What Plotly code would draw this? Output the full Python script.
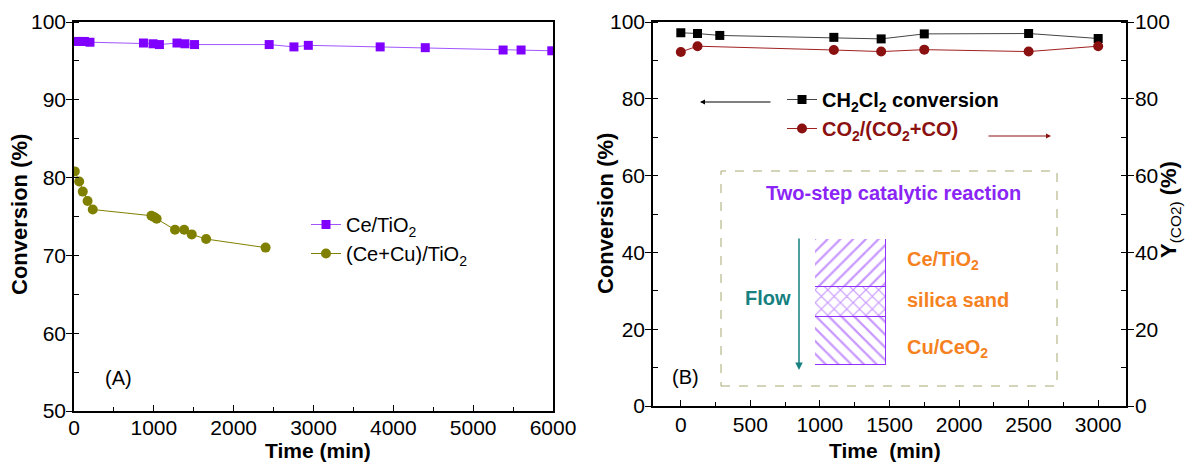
import plotly.graph_objects as go

# ---------------- data ----------------
# Panel A: conversion vs time
time_ce_tio2 = [20, 70, 130, 200, 870, 990, 1070, 1290, 1390, 1510, 2445, 2755, 2935, 3835, 4400, 5375, 5600, 5985]
conv_ce_tio2 = [97.5, 97.5, 97.5, 97.4, 97.3, 97.2, 97.1, 97.3, 97.2, 97.1, 97.1, 96.8, 97.0, 96.8, 96.7, 96.4, 96.4, 96.3]
time_cecu_tio2 = [10, 65, 110, 170, 235, 970, 1000, 1035, 1265, 1380, 1475, 1655, 2400]
conv_cecu_tio2 = [80.8, 79.5, 78.2, 77.0, 75.9, 75.1, 74.95, 74.7, 73.3, 73.3, 72.7, 72.1, 71.0]

# Panel B: two-step reaction
time_b_conv = [0, 120, 280, 1100, 1440, 1750, 2500, 3000]
ch2cl2_conv = [97.2, 97.0, 96.5, 96.0, 95.6, 96.9, 97.0, 95.7]
time_b_yco2 = [0, 120, 1100, 1440, 1750, 2500, 3000]
co2_ratio = [92.2, 93.7, 92.7, 92.3, 92.8, 92.3, 93.7]

# Inset: catalyst bed (bottom to top)
bed_layers = ["Cu/CeO2", "silica sand", "Ce/TiO2"]
bed_heights = [1.6, 1.0, 1.6]
bed_patterns = ["\\", "x", "/"]

# ---------------- styling helpers ----------------
W, H = 1186, 463
FONT = "Arial, 'Liberation Sans', sans-serif"
PURPLE = "#8000FF"
OLIVE = "#808000"
DARKRED = "#8B1010"
HATCH = "#9130FF"
ORANGE = "#F5821F"
TEAL = "#178080"
TITLE_PURPLE = "#8B25F5"


def px(x):
    return x / W


def py(y):
    return 1 - y / H


fig = go.Figure()

# Panel A traces
fig.add_trace(go.Scatter(
    x=time_ce_tio2, y=conv_ce_tio2, mode="lines+markers", name="Ce/TiO<sub>2</sub>",
    line=dict(color="#A055FF", width=1), marker=dict(symbol="square", size=9, color=PURPLE),
    xaxis="x", yaxis="y", legend="legend"))
fig.add_trace(go.Scatter(
    x=time_cecu_tio2, y=conv_cecu_tio2, mode="lines+markers", name="(Ce+Cu)/TiO<sub>2</sub>",
    line=dict(color=OLIVE, width=1), marker=dict(symbol="circle", size=10, color=OLIVE),
    xaxis="x", yaxis="y", legend="legend"))

# Panel B traces
fig.add_trace(go.Scatter(
    x=time_b_conv, y=ch2cl2_conv, mode="lines+markers",
    name="<b>CH<sub>2</sub>Cl<sub>2</sub> conversion</b>",
    line=dict(color="#444444", width=1), marker=dict(symbol="square", size=9, color="black"),
    xaxis="x2", yaxis="y2", legend="legend2"))
fig.add_trace(go.Scatter(
    x=time_b_yco2, y=co2_ratio, mode="lines+markers",
    name="<span style='color:#8B1010'><b>CO<sub>2</sub>/(CO<sub>2</sub>+CO)</b></span>",
    line=dict(color="#A02020", width=1), marker=dict(symbol="circle", size=10, color=DARKRED),
    xaxis="x2", yaxis="y3", legend="legend2"))

# Inset catalyst bed as hatched stacked bars
for layer, h, pat in zip(bed_layers, bed_heights, bed_patterns):
    fig.add_trace(go.Bar(
        x=[0], y=[h], width=1, name=layer, showlegend=False, hoverinfo="skip",
        marker=dict(color="white", line=dict(color=HATCH, width=1.5),
                    pattern=dict(shape=pat, fgcolor=HATCH, bgcolor="white", size=9, solidity=0.25)),
        xaxis="x3", yaxis="y4"))

tick_font = dict(family=FONT, size=21, color="black")
title_font = dict(family=FONT, size=22, color="black")

common_axis = dict(showline=True, linecolor="black", linewidth=1.5, mirror=True,
                   showgrid=False, zeroline=False, tickfont=tick_font, automargin=False,
                   tickcolor="black", ticklen=6, tickwidth=1.3)

fig.update_layout(
    width=W, height=H, margin=dict(l=0, r=0, t=0, b=0, autoexpand=False),
    paper_bgcolor="white", plot_bgcolor="white",
    font=dict(family=FONT, size=20, color="black"),
    barmode="stack", bargap=0,
    xaxis=dict(common_axis, domain=[px(74), px(553)], range=[0, 6000], dtick=1000,
               ticks="inside", anchor="y", ticklabelstandoff=-3,
               minor=dict(dtick=500, ticks="inside", ticklen=4, tickcolor="black", tickwidth=1.3)),
    yaxis=dict(common_axis, domain=[py(411), py(22)], range=[50, 100], dtick=10,
               ticks="outside", anchor="x", ticklabelstandoff=-4,
               minor=dict(dtick=5, ticks="inside", ticklen=5, tickcolor="black", tickwidth=1.3)),
    xaxis2=dict(common_axis, domain=[px(653), px(1126)], range=[-200, 3200], dtick=500,
                tick0=0, ticks="inside", anchor="y2", ticklabelstandoff=-1,
                minor=dict(dtick=250, tick0=0, ticks="inside", ticklen=4, tickcolor="black", tickwidth=1.3)),
    yaxis2=dict(common_axis, domain=[py(406), py(22)], range=[0, 100], dtick=20,
                ticks="outside", anchor="x2", mirror=False, ticklabelstandoff=-4,
                minor=dict(dtick=10, ticks="inside", ticklen=5, tickcolor="black", tickwidth=1.3)),
    yaxis3=dict(common_axis, overlaying="y2", side="right", range=[0, 100], dtick=20,
                ticks="outside", anchor="x2", mirror=False, ticklabelstandoff=-3,
                minor=dict(dtick=10, ticks="inside", ticklen=5, tickcolor="black", tickwidth=1.3)),
    xaxis3=dict(domain=[px(815), px(886)], range=[-0.5, 0.5], visible=False, anchor="y4",
                fixedrange=True, automargin=False),
    yaxis4=dict(domain=[py(365), py(239)], range=[0, sum(bed_heights)], visible=False,
                anchor="x3", fixedrange=True, automargin=False),
    legend=dict(x=px(306), y=py(205), xanchor="left", yanchor="top", traceorder="normal",
                font=dict(family=FONT, size=20, color="black"),
                bgcolor="rgba(0,0,0,0)", borderwidth=0, tracegroupgap=0),
    legend2=dict(x=px(782), y=py(80), xanchor="left", yanchor="top", traceorder="normal",
                 font=dict(family=FONT, size=20, color="black"),
                 bgcolor="rgba(0,0,0,0)", borderwidth=0, tracegroupgap=0),
    showlegend=True,
)

# Inset frame
fig.add_shape(type="rect", xref="paper", yref="paper",
              x0=px(721), x1=px(1057), y0=py(386), y1=py(171),
              line=dict(color="#A8A870", width=1, dash="dash"), fillcolor="rgba(0,0,0,0)", layer="below")

xtitle_font = dict(family=FONT, size=21, color="black")
annotations = [
    # axis titles
    dict(x=px(20), y=py(215), text="<b>Conversion (%)</b>", textangle=-90, font=title_font),
    dict(x=px(318), y=0, yanchor="bottom", borderpad=0, text="<b>Time (min)</b>", font=xtitle_font),
    dict(x=px(605), y=py(214), text="<b>Conversion (%)</b>", textangle=-90, font=title_font),
    dict(x=px(885), y=0, yanchor="bottom", borderpad=0, text="<b>Time  (min)</b>", font=xtitle_font),
    dict(x=px(1170), y=py(210), text="<b>Y</b><sub>(CO2)</sub><b> (%)</b>", textangle=-90,
         font=title_font),
    # panel labels and inset text
    dict(x=px(118), y=py(378), text="(A)", font=dict(family=FONT, size=20, color="black")),
    dict(x=px(685), y=py(377), text="(B)", font=dict(family=FONT, size=20, color="black")),
    dict(x=px(893), y=py(193), text="<b>Two-step catalytic reaction</b>",
         font=dict(family=FONT, size=20, color=TITLE_PURPLE)),
    dict(x=px(768), y=py(298), text="<b>Flow</b>", font=dict(family=FONT, size=20, color=TEAL)),
    dict(x=px(905), y=py(260), text="<b>Ce/TiO<sub>2</sub></b>", xanchor="left",
         font=dict(family=FONT, size=20, color=ORANGE)),
    dict(x=px(905), y=py(300), text="<b>silica sand</b>", xanchor="left",
         font=dict(family=FONT, size=20, color=ORANGE)),
    dict(x=px(905), y=py(348), text="<b>Cu/CeO<sub>2</sub></b>", xanchor="left",
         font=dict(family=FONT, size=20, color=ORANGE)),
]
for a in annotations:
    a.setdefault("xanchor", "center")
    a.setdefault("yanchor", "middle")
    fig.add_annotation(xref="paper", yref="paper", showarrow=False, **a)

# Arrows (pointing to the axes / flow direction)
fig.add_annotation(xref="paper", yref="paper", x=px(700), y=py(102), ax=72, ay=0, text="",
                   showarrow=True, arrowhead=2, arrowsize=1, arrowwidth=1, arrowcolor="black")
fig.add_annotation(xref="paper", yref="paper", x=px(1051), y=py(136), ax=-64, ay=0, text="",
                   showarrow=True, arrowhead=2, arrowsize=1, arrowwidth=1, arrowcolor=DARKRED)
fig.add_annotation(xref="paper", yref="paper", x=px(799), y=py(370), ax=0, ay=-133, text="",
                   showarrow=True, arrowhead=2, arrowsize=1, arrowwidth=1.5, arrowcolor=TEAL)

fig.write_html(
    "out.html",
    config={"displayModeBar": False},
    post_script="document.body.style.margin='0';document.body.style.padding='0';"
                "document.body.style.overflow='hidden';",
)
